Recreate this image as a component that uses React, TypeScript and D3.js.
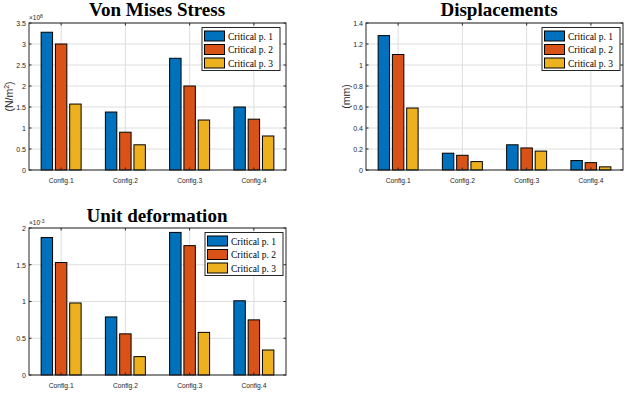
import React from "react";
import * as d3 from "d3";

const configs = ["Config.1", "Config.2", "Config.3", "Config.4"];
const seriesNames = ["Critical p. 1", "Critical p. 2", "Critical p. 3"];
const colors = ["#0072BD", "#D95319", "#EDB120"];

// Von Mises Stress (x10^8 N/m^2)
const stressP1 = [3.28, 1.38, 2.66, 1.5];
const stressP2 = [3.0, 0.9, 2.0, 1.21];
const stressP3 = [1.57, 0.6, 1.19, 0.81];
const stressTicks = [0, 0.5, 1, 1.5, 2, 2.5, 3, 3.5];

// Displacements (mm)
const dispP1 = [1.28, 0.16, 0.24, 0.09];
const dispP2 = [1.1, 0.14, 0.21, 0.07];
const dispP3 = [0.59, 0.08, 0.18, 0.03];
const dispTicks = [0, 0.2, 0.4, 0.6, 0.8, 1, 1.2, 1.4];

// Unit deformation (x10^-3)
const defP1 = [1.87, 0.79, 1.94, 1.01];
const defP2 = [1.53, 0.56, 1.76, 0.75];
const defP3 = [0.98, 0.25, 0.58, 0.34];
const defTicks = [0, 0.5, 1, 1.5, 2];

const SANS = "'Liberation Sans', Arial, Helvetica, sans-serif";
const SERIF = "'Liberation Serif', 'Times New Roman', serif";
const TXT = "#262626";

type PanelProps = {
  left: number; right: number; top: number; bottom: number;
  title: string; titleX: number; titleY: number;
  series: number[][]; ticks: number[];
  exponent?: string; ylabel?: React.ReactNode; ylabelX?: number;
  legX: number; legY: number;
};

function Panel(p: PanelProps) {
  const x = d3.scaleLinear().domain([0.5, 4.5]).range([p.left, p.right]);
  const yMax = p.ticks[p.ticks.length - 1];
  const y = d3.scaleLinear().domain([0, yMax]).range([p.bottom, p.top]);
  const offsets = [-2 / 9, 0, 2 / 9];
  const bw = (2 / 9) * 0.8;
  const bwPx = x(1 + bw) - x(1);
  const fmt = (v: number) => d3.format("~g")(v);
  const tl = 2.5;
  const legW = 78, legH = 43;
  return (
    <g>
      {p.ticks.map((t) => (
        <line key={"gy" + t} x1={p.left} x2={p.right} y1={y(t)} y2={y(t)} stroke="#dedede" strokeWidth={1} />
      ))}
      {configs.map((c, i) => (
        <line key={"gx" + c} x1={x(i + 1)} x2={x(i + 1)} y1={p.top} y2={p.bottom} stroke="#dedede" strokeWidth={1} />
      ))}
      {p.series.map((s, si) =>
        s.map((v, ci) => (
          <rect
            key={si + "-" + ci}
            x={x(ci + 1 + offsets[si]) - bwPx / 2}
            y={y(v)}
            width={bwPx}
            height={y(0) - y(v)}
            fill={colors[si]}
            stroke="#000"
            strokeWidth={1}
          />
        ))
      )}
      <rect x={p.left} y={p.top} width={p.right - p.left} height={p.bottom - p.top} fill="none" stroke="#262626" strokeWidth={1} />
      {p.ticks.map((t) => (
        <g key={"ty" + t}>
          <line x1={p.left} x2={p.left + tl} y1={y(t)} y2={y(t)} stroke="#262626" />
          <line x1={p.right} x2={p.right - tl} y1={y(t)} y2={y(t)} stroke="#262626" />
          <text transform={`translate(${p.left - 3},${y(t) + 2.8}) scale(0.88,1)`} fontSize={8} textAnchor="end" fill={TXT} fontFamily={SANS}>{fmt(t)}</text>
        </g>
      ))}
      {configs.map((c, i) => (
        <g key={"tx" + c}>
          <line x1={x(i + 1)} x2={x(i + 1)} y1={p.bottom} y2={p.bottom - tl} stroke="#262626" />
          <line x1={x(i + 1)} x2={x(i + 1)} y1={p.top} y2={p.top + tl} stroke="#262626" />
          <text transform={`translate(${x(i + 1)},${p.bottom + 12.5}) scale(0.84,1)`} fontSize={8} textAnchor="middle" fill={TXT} fontFamily={SANS}>{c}</text>
        </g>
      ))}
      {p.exponent && (
        <text x={p.left} y={p.top - 3} fontSize={6.5} fill={TXT} fontFamily={SANS}>
          ×10<tspan dy={-2.5} fontSize={5}>{p.exponent}</tspan>
        </text>
      )}
      {p.ylabel && (
        <text
          transform={`translate(${p.ylabelX},${(p.top + p.bottom) / 2}) rotate(-90)`}
          textAnchor="middle"
          fontSize={10.5}
          fill={TXT}
          fontFamily={SANS}
        >
          {p.ylabel}
        </text>
      )}
      <text x={p.titleX} y={p.titleY} textAnchor="middle" fontSize={19} fontWeight="bold" fontFamily={SERIF} fill="#000">
        {p.title}
      </text>
      <g transform={`translate(${p.legX},${p.legY})`}>
        <rect x={0} y={0} width={legW} height={legH} fill="#fff" stroke="#262626" strokeWidth={1} />
        {seriesNames.map((n, i) => (
          <g key={n} transform={`translate(0,${3.5 + i * 13.5})`}>
            <rect x={2.5} y={0} width={20} height={10} fill={colors[i]} stroke="#000" strokeWidth={1} />
            <text x={26} y={8.5} fontSize={9.5} fontFamily={SERIF} fill="#000">{n}</text>
          </g>
        ))}
      </g>
    </g>
  );
}

export default function App() {
  return (
    <svg width={632} height={393} style={{ position: "absolute", left: 0, top: 0, background: "#fff" }}>
      <rect width={632} height={393} fill="#fff" />
      <Panel
        left={29} right={286} top={23} bottom={170}
        title="Von Mises Stress" titleX={157} titleY={16}
        series={[stressP1, stressP2, stressP3]} ticks={stressTicks}
        exponent="8"
        ylabel={<>(N/m<tspan dy={-4} fontSize={7}>2</tspan><tspan dy={4}>)</tspan></>}
        ylabelX={13}
        legX={202} legY={27.5}
      />
      <Panel
        left={366} right={623} top={23} bottom={170}
        title="Displacements" titleX={499} titleY={16}
        series={[dispP1, dispP2, dispP3]} ticks={dispTicks}
        ylabel="(mm)" ylabelX={350}
        legX={542} legY={27.5}
      />
      <Panel
        left={29} right={286} top={228} bottom={375}
        title="Unit deformation" titleX={157} titleY={222}
        series={[defP1, defP2, defP3]} ticks={defTicks}
        exponent="-3"
        legX={205} legY={232.5}
      />
    </svg>
  );
}
